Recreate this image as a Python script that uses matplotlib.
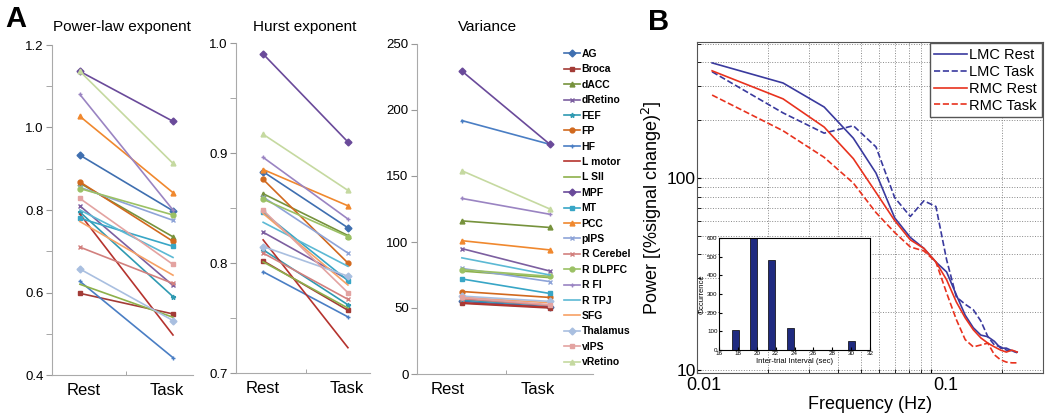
import numpy as np
import matplotlib
matplotlib.use("Agg")
import matplotlib.pyplot as plt
from matplotlib.lines import Line2D
from matplotlib.transforms import ScaledTranslation, blended_transform_factory

plt.rcParams['font.family'] = ['Liberation Sans', 'DejaVu Sans']

# ---- panel A data (Rest, Task) ----
regions = ["AG", "Broca", "dACC", "dRetino", "FEF", "FP", "HF", "L motor", "L SII", "MPF",
           "MT", "PCC", "pIPS", "R Cerebellum", "R DLPFC", "R FI", "R TPJ", "SFG",
           "Thalamus", "vIPS", "vRetino"]
colors = ["#3F6FB0", "#A33B36", "#76923C", "#7C5FA0", "#2F9AB2", "#D1691E", "#4A7EC4",
          "#B5332E", "#8DB04A", "#6A4A9A", "#38A6C6", "#F0882E", "#8EA4D8", "#D2807E",
          "#9BC165", "#9A84C2", "#5CB9D4", "#F7A165", "#A9BFE0", "#E3A3A1", "#C5D9A0"]
markers = ["D", "s", "^", "x", "*", "o", "+", "", "", "D",
           "s", "^", "x", "x", "o", "+", "", "", "D", "s", "^"]

powerlaw_rest = [0.933, 0.598, 0.865, 0.81, 0.795, 0.868, 0.627, 0.79, 0.62, 1.136,
                 0.78, 1.027, 0.855, 0.71, 0.852, 1.08, 0.80, 0.772, 0.657, 0.828, 1.136]
powerlaw_task = [0.798, 0.548, 0.735, 0.617, 0.59, 0.724, 0.442, 0.497, 0.54, 1.015,
                 0.712, 0.842, 0.775, 0.622, 0.788, 0.80, 0.685, 0.642, 0.532, 0.668, 0.913]
hurst_rest = [0.883, 0.802, 0.863, 0.828, 0.812, 0.876, 0.792, 0.821, 0.801, 0.990,
              0.846, 0.885, 0.860, 0.809, 0.858, 0.896, 0.837, 0.845, 0.815, 0.848, 0.917]
hurst_task = [0.832, 0.757, 0.825, 0.785, 0.762, 0.800, 0.751, 0.723, 0.759, 0.910,
              0.784, 0.852, 0.809, 0.767, 0.824, 0.840, 0.797, 0.780, 0.788, 0.773, 0.866]
variance_rest = [55, 53.5, 116, 95, 56, 62.5, 192, 54, 78, 229.5,
                 72, 101, 80, 57, 79, 133, 88, 58, 59, 58, 154]
variance_task = [51, 50, 111, 78, 52, 58, 174, 50.5, 73, 174,
                 61, 94, 70, 52, 74, 121, 75, 54, 55, 52.5, 125]
conditions = ["Rest", "Task"]

# ---- panel B data ----
freq = [0.0116, 0.0233, 0.0349, 0.0465, 0.0581, 0.0698, 0.0814, 0.0930, 0.1047, 0.1163,
        0.1280, 0.1396, 0.1512, 0.1628, 0.1745, 0.1861, 0.1977, 0.2093, 0.2210, 0.2326]
p_lmc_rest = [397, 312, 234, 161, 106, 62, 49, 43, 36.5, 32.4,
              24.6, 19.3, 16.6, 15.2, 14.9, 14.1, 13.0, 13.0, 12.6, 12.4]
p_lmc_task = [357, 218, 171, 187, 145, 79, 63, 76, 71, 37.5,
              24, 22, 20.6, 18, 14.9, 13.5, 13.2, 12.7, 12.6, 12.3]
p_rmc_rest = [361, 258, 184, 126, 84, 60, 47.6, 43, 36.5, 29.5,
              22.6, 18.7, 16.2, 14.7, 13.8, 13.2, 12.7, 12.4, 12.7, 12.4]
p_rmc_task = [270, 176, 128, 94, 66, 52, 43.7, 41.7, 36.5, 25.2,
              18.3, 14.4, 13.2, 13.5, 13.8, 12.0, 11.3, 11.0, 10.9, 10.9]

# inset histogram
iti_sec = [17.7, 19.7, 21.6, 23.6, 30.0]
iti_count = [105, 600, 480, 120, 50]

W, H = 1050, 419
fig = plt.figure(figsize=(W / 100, H / 100), dpi=100)


def box(l, r, t, b):
    return [l / W, 1 - b / H, (r - l) / W, (b - t) / H]


def panel_a(rect, rest, task, ylim, major, minor, fmt, xlim, labx, title, tcx):
    ax = fig.add_axes(rect)
    for i in range(len(regions)):
        ax.plot([1, 2], [rest[i], task[i]], color=colors[i], marker=markers[i],
                ms=3.5, mew=1.0, lw=1.2)
    ax.set_xlim(*xlim)
    ax.set_ylim(*ylim)
    ax.set_yticks(major)
    ax.set_yticklabels([fmt % v for v in major], fontsize=9.5)
    ax.set_yticks(minor, minor=True)
    ax.set_xticks(labx)
    ax.set_xticklabels(conditions, fontsize=12)
    ax.set_xticks([1.5], minor=True)
    ax.tick_params(axis='x', which='major', length=0, pad=6)
    ax.tick_params(axis='x', which='minor', length=3, direction='in', color='#999999')
    ax.tick_params(axis='y', which='both', length=4, color='#999999', pad=2)
    for s in ['top', 'right']:
        ax.spines[s].set_visible(False)
    for s in ['left', 'bottom']:
        ax.spines[s].set_color('#AAAAAA')
    fig.text(tcx / W, 1 - 27 / H, title, ha='center', va='center', fontsize=11)
    return ax


panel_a(box(52, 193, 45, 375), powerlaw_rest, powerlaw_task, (0.4, 1.2),
        [0.4, 0.6, 0.8, 1.0, 1.2], [0.5, 0.7, 0.9, 1.1], "%.1f", (0.70, 2.215),
        [1.04, 1.935], "Power-law exponent", 122)
panel_a(box(236, 370, 43, 373), hurst_rest, hurst_task, (0.7, 1.0),
        [0.7, 0.8, 0.9, 1.0], [0.75, 0.85, 0.95], "%.1f", (0.68, 2.26),
        [1.0, 1.99], "Hurst exponent", 305)
axv = panel_a(box(417, 593, 44, 374), variance_rest, variance_task, (0, 250),
              [0, 50, 100, 150, 200, 250], [], "%d", (0.49, 2.49),
              [0.84, 1.86], "Variance", 488)

handles = [Line2D([], [], color=colors[i], marker=markers[i], ms=3.5, lw=1.2)
           for i in range(len(regions))]
leg_labels = [r if r != "R Cerebellum" else "R Cerebel" for r in regions]
fig.legend(handles, leg_labels, loc='upper left', bbox_to_anchor=(564 / W, 1 - 49 / H),
           frameon=False, prop={'weight': 'bold', 'size': 7.5},
           handlelength=1.5, handletextpad=0.2, labelspacing=0.52, borderaxespad=0,
           borderpad=0)

fig.text(5 / W, 1 - 19 / H, "A", fontsize=21, fontweight='bold', va='center', ha='left')
fig.text(648 / W, 1 - 22 / H, "B", fontsize=21, fontweight='bold', va='center', ha='left')

# ---- panel B ----
axb = fig.add_axes(box(697, 1043, 42, 373))
blue = "#3A3A9E"
red = "#E8321E"
axb.loglog(freq, p_lmc_rest, color=blue, lw=1.2, label="LMC Rest")
axb.loglog(freq, p_lmc_task, color=blue, lw=1.2, ls='--', label="LMC Task")
axb.loglog(freq, p_rmc_rest, color=red, lw=1.2, label="RMC Rest")
axb.loglog(freq, p_rmc_task, color=red, lw=1.2, ls='--', label="RMC Task")
axb.set_xlim(0.01, 0.3)
axb.set_ylim(9.65, 510)
axb.set_xticks([0.01, 0.1])
axb.tick_params(axis='x', which='both', labelbottom=False)
xtrans = blended_transform_factory(axb.transData, axb.transAxes)
for v, s, dx in zip([0.01, 0.1], ["0.01", "0.1"], [7, 15]):
    axb.text(v, 0, s, fontsize=13, ha='center', va='top',
             transform=xtrans + ScaledTranslation(dx / 100, -4 / 100, fig.dpi_scale_trans))
axb.set_yticks([10, 100])
axb.set_yticklabels(["10", "100"], fontsize=12.5)
axb.grid(True, which='both', ls=':', color='#888888', lw=0.7)
axb.tick_params(which='both', direction='in', length=3)
axb.tick_params(axis='y', which='major', pad=1)
axb.tick_params(which='minor', labelleft=False)
axb.set_xlabel("Frequency (Hz)", fontsize=13)
axb.xaxis.set_label_coords(0.5, -0.07)
axb.set_ylabel("Power [(%signal change)$^2$]", fontsize=13)
axb.yaxis.set_label_coords(-0.095, 0.5)
for s in axb.spines.values():
    s.set_color('#555555')
axb.legend(loc='upper right', fontsize=10.5, handlelength=2.2, handletextpad=0.2,
           borderaxespad=0.1, fancybox=False, edgecolor='#555555', framealpha=1,
           labelspacing=0.2, borderpad=0.3)

axi = fig.add_axes(box(719, 870, 238, 350))
axi.bar(iti_sec, iti_count, width=0.75, color="#1F2A80", edgecolor='black', lw=0.5)
axi.set_xlim(16, 32)
axi.set_ylim(0, 600)
axi.set_xticks(range(16, 33, 2))
axi.set_yticks(range(0, 601, 100))
axi.tick_params(labelsize=4.5, length=2, direction='in', pad=1)
axi.set_xlabel("Inter-trial Interval (sec)", fontsize=5.5, labelpad=1)
axi.set_ylabel("Occurrence", fontsize=5.5, labelpad=1)

fig.savefig("out.png", dpi=100)
